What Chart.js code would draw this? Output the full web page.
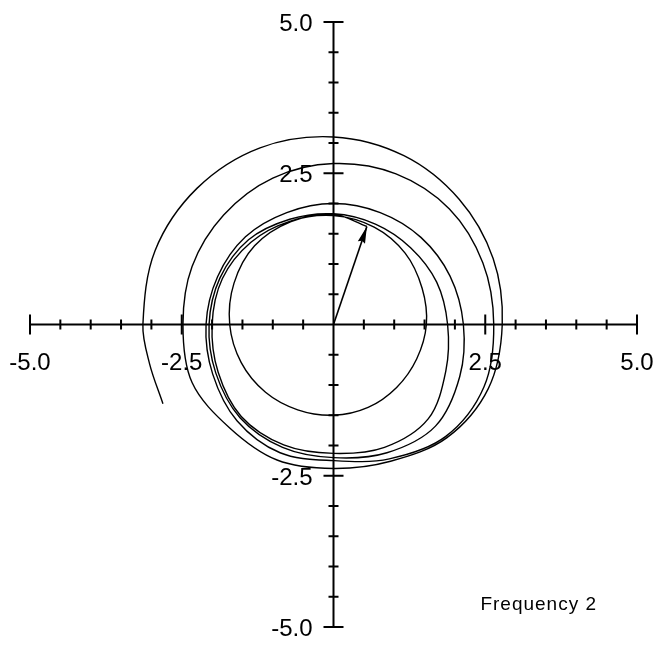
<!DOCTYPE html>
<html>
<head>
<meta charset="utf-8">
<script src="https://cdn.jsdelivr.net/npm/chart.js@4.4.1/dist/chart.umd.min.js"></script>
<style>
  html, body { margin: 0; padding: 0; background: #ffffff; }
  #wrap { width: 660px; height: 647px; position: relative; }
</style>
</head>
<body>
<div id="wrap"><canvas id="chart"></canvas></div>
<script>
// Path traced by the tip of the rotating vector, in plot units, one turn per row.
const traceX = [
  -2.81, -3.03, -3.14, -2.94, -2.25, -1.21, 0.00, 1.16, 2.07, 2.63, 2.78, 2.55, 1.87, 0.94, 0.00,
  -0.93, -1.71, -2.33, -2.48, -2.33, -1.81, -1.00, 0.00, 1.03, 1.91, 2.46, 2.64, 2.48, 1.85, 0.92, 0.00,
  -0.88, -1.59, -1.99, -2.10, -1.91, -1.45, -0.77, 0.00, 0.77, 1.44, 1.92, 2.14, 2.08, 1.68, 0.88, 0.00,
  -0.84, -1.54, -1.94, -2.05, -1.87, -1.40, -0.72, 0.00, 0.69, 1.27, 1.70, 1.88, 1.85, 1.56, 0.84, 0.00,
  -0.82, -1.52, -1.90, -2.00, -1.83, -1.36, -0.71, 0.00, 0.67, 1.18, 1.46, 1.53, 1.37, 1.04, 0.57, 0.00,
  -0.59, -1.12, -1.52, -1.71, -1.64, -1.30, -0.70, 0.00, 0.55
];
const traceY = [
  -1.31, -0.65, 0.00, 1.22, 2.25, 2.92, 3.10, 2.79, 2.07, 1.09, 0.00, -1.06, -1.87, -2.26, -2.38,
  -2.24, -1.71, -0.96, 0.00, 0.96, 1.81, 2.42, 2.66, 2.49, 1.91, 1.02, 0.00, -1.03, -1.85, -2.22, -2.25,
  -2.12, -1.59, -0.82, 0.00, 0.79, 1.45, 1.85, 2.00, 1.85, 1.44, 0.80, 0.00, -0.86, -1.68, -2.12, -2.20,
  -2.03, -1.54, -0.80, 0.00, 0.77, 1.40, 1.74, 1.83, 1.66, 1.27, 0.70, 0.00, -0.77, -1.56, -2.03, -2.13,
  -1.99, -1.52, -0.79, 0.00, 0.76, 1.36, 1.71, 1.80, 1.61, 1.18, 0.60, 0.00, -0.57, -1.04, -1.37, -1.50,
  -1.41, -1.12, -0.63, 0.00, 0.68, 1.30, 1.70, 1.82, 1.62
];

// Current vector: from the origin to its tip.
const vectorX = [0, 0.55];
const vectorY = [0, 1.62];

// Axis ticks and labels.
const axisMin = -5;
const axisMax = 5;
const minorTicks = [-4.5, -4, -3.5, -3, -2, -1.5, -1, -0.5, 0.5, 1, 1.5, 2, 3, 3.5, 4, 4.5];
const majorTicks = [-5, -2.5, 2.5, 5];
const majorLabels = ["-5.0", "-2.5", "2.5", "5.0"];

const caption = "Frequency 2";
const captionAt = [2.42, -4.72];

const toPoints = (xs, ys) => xs.map((x, i) => ({ x: x, y: ys[i] }));

const INK = "#000000";

// Axes drawn through the origin, with ticks crossing the line.
const crossAxes = {
  id: "crossAxes",
  beforeDatasetsDraw(chart) {
    const { ctx, scales: { x, y } } = chart;
    const x0 = x.getPixelForValue(0);
    const y0 = y.getPixelForValue(0);
    ctx.save();
    ctx.strokeStyle = INK;
    ctx.lineWidth = 2;
    ctx.lineCap = "butt";
    ctx.beginPath();
    ctx.moveTo(x.getPixelForValue(axisMin), y0);
    ctx.lineTo(x.getPixelForValue(axisMax), y0);
    ctx.moveTo(x0, y.getPixelForValue(axisMax));
    ctx.lineTo(x0, y.getPixelForValue(axisMin));
    ctx.stroke();

    const tick = (v, half) => {
      const px = x.getPixelForValue(v);
      const py = y.getPixelForValue(v);
      ctx.moveTo(px, y0 - half); ctx.lineTo(px, y0 + half);
      ctx.moveTo(x0 - half, py); ctx.lineTo(x0 + half, py);
    };
    ctx.beginPath();
    minorTicks.forEach(v => tick(v, 5));
    majorTicks.forEach(v => tick(v, 10));
    ctx.stroke();

    ctx.fillStyle = INK;
    ctx.font = '24px "Liberation Sans", Arial, sans-serif';
    ctx.textAlign = "center";
    ctx.textBaseline = "alphabetic";
    majorTicks.forEach((v, i) => {
      ctx.fillText(majorLabels[i], x.getPixelForValue(v), y0 + 45);
    });
    ctx.textAlign = "right";
    majorTicks.forEach((v, i) => {
      ctx.fillText(majorLabels[i], x0 - 21, y.getPixelForValue(v) + 9);
    });
    ctx.restore();
  },
  afterDatasetsDraw(chart) {
    const { ctx, scales: { x, y } } = chart;
    // arrow head at the vector tip
    const bx = x.getPixelForValue(vectorX[0]), by = y.getPixelForValue(vectorY[0]);
    const tx = x.getPixelForValue(vectorX[1]), ty = y.getPixelForValue(vectorY[1]);
    const ang = Math.atan2(ty - by, tx - bx);
    const len = 17, half = 3.8;
    ctx.save();
    ctx.fillStyle = INK;
    ctx.translate(tx, ty);
    ctx.rotate(ang);
    ctx.beginPath();
    ctx.moveTo(0, 0);
    ctx.lineTo(-len, -half);
    ctx.lineTo(-len + 2, 0);
    ctx.lineTo(-len, half);
    ctx.closePath();
    ctx.fill();
    ctx.restore();

    ctx.save();
    ctx.fillStyle = INK;
    ctx.font = '19px "Liberation Sans", Arial, sans-serif';
    if ("letterSpacing" in ctx) ctx.letterSpacing = "1px";
    ctx.textAlign = "left";
    ctx.textBaseline = "alphabetic";
    ctx.fillText(caption, x.getPixelForValue(captionAt[0]), y.getPixelForValue(captionAt[1]));
    ctx.restore();
  }
};

new Chart(document.getElementById("chart"), {
  type: "scatter",
  data: {
    datasets: [
      {
        label: "trace",
        data: toPoints(traceX, traceY),
        showLine: true,
        borderColor: INK,
        borderWidth: 1.4,
        tension: 0.34,
        pointRadius: 0,
        fill: false
      },
      {
        label: "vector",
        data: toPoints(vectorX, vectorY),
        showLine: true,
        borderColor: INK,
        borderWidth: 1.6,
        tension: 0,
        pointRadius: 0,
        fill: false
      }
    ]
  },
  options: {
    responsive: true,
    maintainAspectRatio: false,
    animation: false,
    events: [],
    layout: { padding: { left: 30, right: 23, top: 22, bottom: 20 } },
    plugins: {
      legend: { display: false },
      tooltip: { enabled: false },
      title: { display: false }
    },
    scales: {
      x: { type: "linear", min: axisMin, max: axisMax, display: false },
      y: { type: "linear", min: axisMin, max: axisMax, display: false }
    }
  },
  plugins: [crossAxes]
});
</script>
</body>
</html>
